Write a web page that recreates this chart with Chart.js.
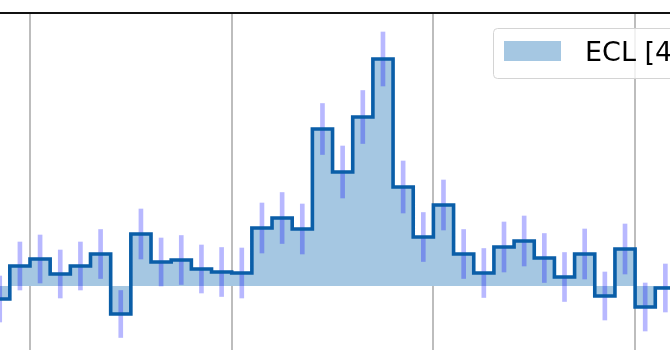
<!DOCTYPE html>
<html>
<head>
<meta charset="utf-8">
<script src="https://cdn.jsdelivr.net/npm/chart.js@4/dist/chart.umd.min.js"></script>
<style>
html,body{margin:0;padding:0;background:#fff;}
#wrap{width:670px;height:350px;}
</style>
</head>
<body>
<div id="wrap"><canvas id="c" width="670" height="350"></canvas></div>
<script>
// Bin left edges (arbitrary x units) and histogram contents
const binEdges = [8,9,10,11,12,13,14,15,16,17,18,19,20,21,22,23,24,25,26,27,28,29,30,31,32,33,34,35,36,37,38,39,40,41,42];
const counts = [-1.3,2.0,2.7,1.2,2.0,3.2,-2.8,5.2,2.4,2.6,1.7,1.4,1.3,5.8,6.8,5.7,15.7,11.4,16.9,22.7,9.9,4.9,8.1,3.2,1.3,3.9,4.5,2.8,0.9,3.2,-1.0,3.7,-2.1,-0.2];
const errors = [2.3,2.4,2.4,2.4,2.4,2.45,2.35,2.5,2.4,2.45,2.4,2.45,2.5,2.5,2.55,2.5,2.55,2.6,2.65,2.7,2.6,2.45,2.5,2.45,2.45,2.5,2.5,2.45,2.45,2.5,2.4,2.5,2.4,2.4];
const gridTicks = [10,20,30,40];
const legendLabel = 'ECL [4S]';

const stepData = counts.map((v,i)=>({x:binEdges[i], y:v}));
stepData.push({x:binEdges[counts.length], y:counts[counts.length-1]});
const errData = counts.map((v,i)=>({x:(binEdges[i]+binEdges[i+1])/2, y:[v-errors[i], v+errors[i]]}));

const FILL = '#a5c7e2';
const LINE = '#0a5ea8';

const extras = {
  id:'extras',
  afterDraw(chart){
    const ctx = chart.ctx, a = chart.chartArea;
    ctx.save();
    // top spine
    ctx.strokeStyle = '#111';
    ctx.lineWidth = 2;
    ctx.beginPath(); ctx.moveTo(0, a.top); ctx.lineTo(chart.width, a.top); ctx.stroke();
    // legend
    const x0 = 493.5, y0 = 28.5, w = 200, h = 50, r = 4;
    ctx.fillStyle = 'rgba(255,255,255,0.8)';
    ctx.strokeStyle = '#d4d4d4';
    ctx.lineWidth = 1;
    ctx.beginPath();
    ctx.moveTo(x0+r, y0); ctx.lineTo(x0+w-r, y0); ctx.arcTo(x0+w, y0, x0+w, y0+r, r);
    ctx.lineTo(x0+w, y0+h-r); ctx.arcTo(x0+w, y0+h, x0+w-r, y0+h, r);
    ctx.lineTo(x0+r, y0+h); ctx.arcTo(x0, y0+h, x0, y0+h-r, r);
    ctx.lineTo(x0, y0+r); ctx.arcTo(x0, y0, x0+r, y0, r);
    ctx.closePath(); ctx.fill(); ctx.stroke();
    ctx.fillStyle = FILL;
    ctx.fillRect(504, 41, 57, 20);
    ctx.fillStyle = '#000';
    ctx.font = '27px "DejaVu Sans"';
    ctx.textBaseline = 'alphabetic';
    ctx.fillText(legendLabel, 585, 61);
    ctx.restore();
  }
};

new Chart(document.getElementById('c'), {
  type:'line',
  data:{
    datasets:[
      {
        type:'line',
        data: stepData,
        stepped:'before',
        borderColor: LINE,
        borderWidth: 3.6,
        borderJoinStyle:'miter',
        backgroundColor: FILL,
        fill:'origin',
        pointRadius:0,
        order:1
      },
      {
        type:'bar',
        data: errData,
        backgroundColor:'rgba(0,0,255,0.28)',
        borderWidth:0,
        barThickness:4,
        grouped:false,
        order:2
      }
    ]
  },
  options:{
    responsive:false,
    animation:false,
    layout:{padding:{top:13,left:0,right:0,bottom:0}},
    plugins:{
      legend:{display:false},
      tooltip:{enabled:false},
      filler:{drawTime:'beforeDatasetsDraw'}
    },
    scales:{
      x:{
        type:'linear',
        offset:false,
        min:8.513, max:41.73,
        afterBuildTicks(s){ s.ticks = gridTicks.map(v=>({value:v})); },
        ticks:{display:false},
        grid:{color:'#bdbdbd', lineWidth:2, drawTicks:false, offset:false},
        border:{display:false}
      },
      y:{
        type:'linear',
        display:false,
        min:-6.4, max:27.3
      }
    }
  },
  plugins:[extras]
});
</script>
</body>
</html>
